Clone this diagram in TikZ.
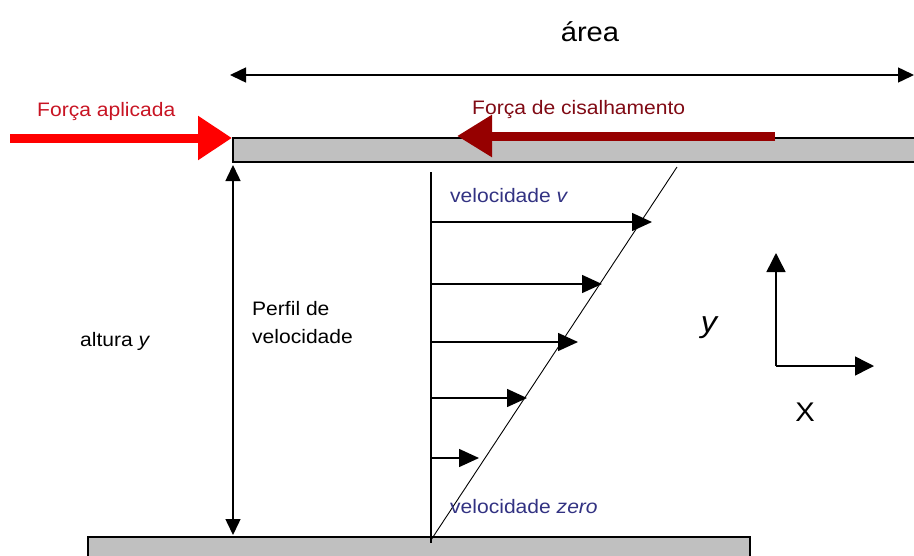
\documentclass[tikz,border=0pt]{standalone}
\usepackage{fontspec}
\setmainfont{Liberation Sans}[FakeStretch=1.08]
\usetikzlibrary{arrows.meta}
\definecolor{forcered}{RGB}{255,0,0}
\definecolor{forcetext}{RGB}{200,20,35}
\definecolor{sheardark}{RGB}{150,0,0}
\definecolor{sheartext}{RGB}{128,10,20}
\definecolor{navytext}{RGB}{50,50,130}
\definecolor{plategray}{RGB}{192,192,192}
\tikzset{
  lbl/.style={inner sep=0pt, font=\fontsize{19.5}{23}\selectfont},
  plate/.style={draw=black, line width=1.2pt, fill=plategray},
  dimline/.style={line width=1.5pt, {Triangle[length=16pt,width=15pt]}-{Triangle[length=16pt,width=15pt]}},
  velarrow/.style={line width=1.5pt, -{Triangle[length=20pt,width=18pt]}},
  axisarrow/.style={line width=1.5pt, -{Triangle[length=19pt,width=19pt]}},
}
\begin{document}
\begin{tikzpicture}[x=1pt,y=-1pt]
\useasboundingbox (0,0) rectangle (914,555);
% plates
\path[plate] (233,138) rectangle (920,162);
\path[plate] (88,537) rectangle (750,560);
% coordinates
\coordinate (areaL) at (230,75);
\coordinate (areaR) at (914,75);
\coordinate (faS) at (10,138);
\coordinate (faT) at (232,138);
\coordinate (fcS) at (775,136);
\coordinate (fcT) at (457,136);
\coordinate (altT) at (233,165);
\coordinate (altB) at (233,535);
\coordinate (vTop) at (431,172);
\coordinate (vBot) at (431,543);
\coordinate (dTop) at (677,167);
\coordinate (dBot) at (431,540);
\coordinate (v1s) at (431,222);
\coordinate (v1e) at (652,222);
\coordinate (v2s) at (431,284);
\coordinate (v2e) at (602,284);
\coordinate (v3s) at (431,342);
\coordinate (v3e) at (578,342);
\coordinate (v4s) at (431,398);
\coordinate (v4e) at (527,398);
\coordinate (v5s) at (431,458);
\coordinate (v5e) at (479,458);
\coordinate (ax0) at (776,366);
\coordinate (axY) at (776,253);
\coordinate (axX) at (874,366);
% area arrow
\draw[dimline] (areaL) -- (areaR);
% forces
\draw[forcered, line width=9pt, -{Triangle[length=34pt,width=42pt]}] (faS) -- (faT);
\draw[sheardark, line width=9pt, -{Triangle[length=35pt,width=40pt]}] (fcS) -- (fcT);
% height
\draw[dimline] (altT) -- (altB);
% profile
\draw[line width=1.4pt] (vTop) -- (vBot);
\draw[line width=0.9pt] (dBot) -- (dTop);
\draw[velarrow] (v1s) -- (v1e);
\draw[velarrow] (v2s) -- (v2e);
\draw[velarrow] (v3s) -- (v3e);
\draw[velarrow] (v4s) -- (v4e);
\draw[velarrow] (v5s) -- (v5e);
% axes
\draw[axisarrow] (ax0) -- (axY);
\draw[axisarrow] (ax0) -- (axX);
% labels
\node[lbl, font=\fontsize{27}{31}\selectfont] (tarea) at (590,32) {área};
\node[lbl, text=forcetext, anchor=base west] (tfa) at (37,116) {Força aplicada};
\node[lbl, text=sheartext, anchor=base west] (tfc) at (472,114) {Força de cisalhamento};
\node[lbl, text=navytext, anchor=base west] (tvv) at (450,202) {velocidade \textit{v}};
\node[lbl, text=navytext, anchor=base west] (tvz) at (450,513) {velocidade \textit{zero}};
\node[lbl, anchor=base west] (talt) at (80,346) {altura \textit{y}};
\node[lbl, anchor=base west] (tperf) at (252,315) {Perfil de};
\node[lbl, anchor=base west] (tperf2) at (252,343) {velocidade};
\node[lbl, font=\fontsize{30}{34}\selectfont\itshape] (ty) at (709,328) {y};
\node[lbl, font=\fontsize{27}{32}\selectfont] (tx) at (805,412) {X};
\end{tikzpicture}
\end{document}
